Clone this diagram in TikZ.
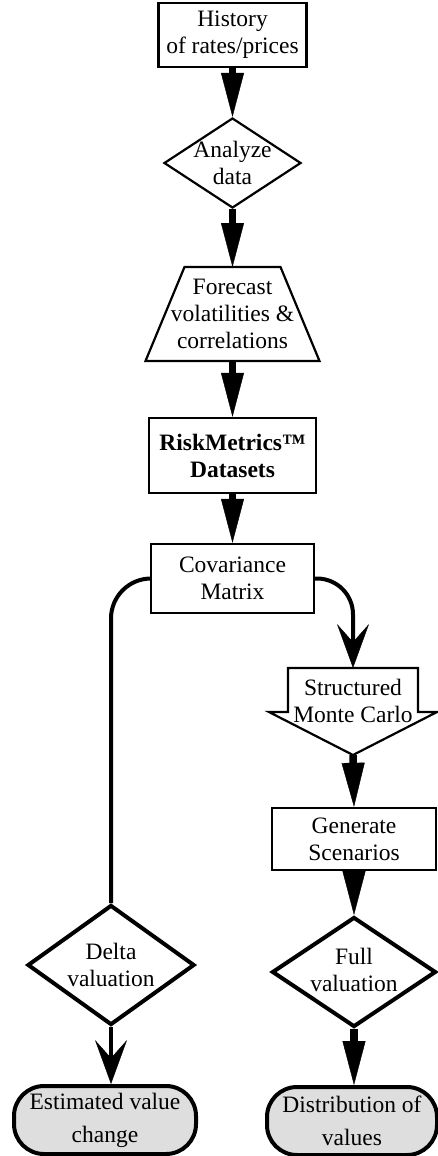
\documentclass[tikz,border=0pt]{standalone}
\usepackage{fontspec}
\setmainfont{Liberation Serif}
\usetikzlibrary{arrows.meta,shapes.geometric,calc}
\definecolor{pillgray}{RGB}{222,222,222}
\tikzset{
  lbl/.style={font=\fontsize{23.5}{27}\selectfont},
  txt/.style={lbl,align=center,inner sep=0pt},
  box/.style={lbl,draw,line width=2.3pt,rectangle,align=center,inner sep=2pt},
  dia/.style={draw,diamond,inner sep=0pt},
  thinline/.style={line width=2.2pt,line join=miter},
  pill/.style={draw,line width=4pt,fill=pillgray,rounded corners=30pt,align=center,
    font=\fontsize{23.5}{33}\selectfont,inner sep=2pt},
  flow/.style={line width=7.5pt,-{Triangle[length=44pt,width=23pt,line width=0.4pt]}},
  barb/.style={line width=4pt,-{Stealth[length=44pt,width=32pt,inset=18pt,line width=0.4pt]}},
  bendline/.style={line width=4pt}
}
\begin{document}
\begin{tikzpicture}[x=1pt,y=1pt]
\useasboundingbox (0,0) rectangle (438,-1156);

% central column
\node[box,minimum width=148pt,minimum height=64pt] (hist) at (232.5,-35) {History\\of rates/prices};
\node[dia,line width=2.2pt,minimum width=137pt,minimum height=90pt] (an) at (232.5,-163) {};
\node[txt] (anT) at (232.5,-163) {Analyze\\data};

\coordinate (fctl) at (184.5,-267);
\coordinate (fctr) at (280.5,-267);
\coordinate (fcbr) at (319.5,-361);
\coordinate (fcbl) at (145.5,-361);
\coordinate (fctop) at (232.5,-267);
\coordinate (fcbot) at (232.5,-361);
\draw[thinline] (fctl) -- (fctr) -- (fcbr) -- (fcbl) -- cycle;
\node[txt] (fcT) at (232.5,-314) {Forecast\\volatilities \&\\correlations};

\node[box,minimum width=167pt,minimum height=75pt,font=\bfseries\fontsize{23.5}{27}\selectfont] (rm) at (232.5,-455.5) {RiskMetrics™\\Datasets};
\node[box,minimum width=163pt,minimum height=69pt] (cov) at (232.5,-578.5) {Covariance\\Matrix};

% right column
\coordinate (smctop) at (353,-668);
\coordinate (smctip) at (353,-755);
\draw[thinline] (288,-668) -- (418,-668) -- (418,-712) -- (437,-712) -- (smctip) -- (269,-712) -- (288,-712) -- cycle;
\node[txt] (smcT) at (353,-701) {Structured\\Monte Carlo};

\node[box,minimum width=164pt,minimum height=62pt] (gen) at (354,-839) {Generate\\Scenarios};
\node[dia,line width=4pt,minimum width=164pt,minimum height=110pt] (full) at (354,-972) {};
\node[txt] (fullT) at (354,-970) {Full\\valuation};
\node[pill,minimum width=170pt,minimum height=68pt] (dist) at (352,-1121) {Distribution of\\values};

% left column
\node[dia,line width=4pt,minimum width=167pt,minimum height=120pt] (delta) at (111,-965) {};
\node[txt] (deltaT) at (111,-965) {Delta\\valuation};
\node[pill,minimum width=182pt,minimum height=68pt] (est) at (105,-1120) {Estimated value\\change};

% connectors
\draw[flow] (hist.south) -- (an.north);
\draw[flow] (an.south) -- (fctop);
\draw[flow] (fcbot) -- (rm.north);
\draw[flow] (rm.south) -- (cov.north);
\draw[bendline,rounded corners=40pt] (cov.west) -| (delta.north);
\draw[barb,rounded corners=36pt] (cov.east) -| (smctop);
\draw[flow] (smctip) -- (gen.north);
\draw[flow] (gen.south) -- (full.north);
\draw[barb] (delta.south) -- (delta.south |- est.north);
\draw[flow] (full.south) -- (full.south |- dist.north);
\end{tikzpicture}
\end{document}
